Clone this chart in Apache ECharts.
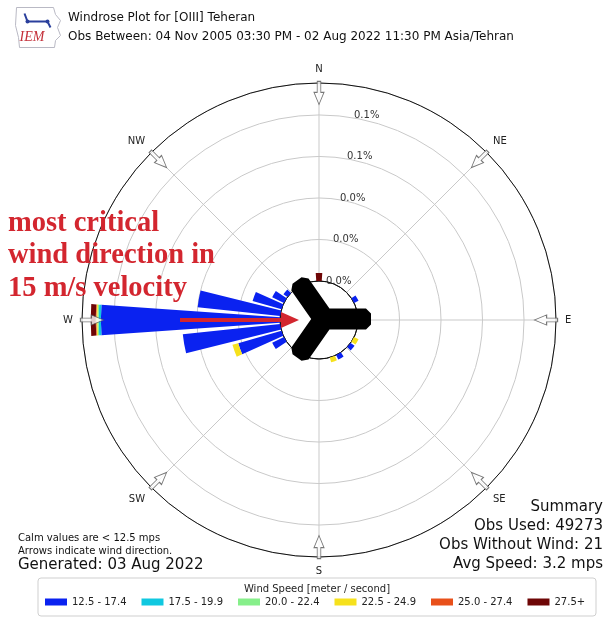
<!DOCTYPE html>
<html>
<head>
<meta charset="utf-8">
<title>Windrose Plot for [OIII] Teheran</title>
<script src="https://cdn.jsdelivr.net/npm/echarts@6.0.0/dist/echarts.min.js"></script>
<style>
  html, body { margin: 0; padding: 0; background: #fff; }
  #chart { width: 608px; height: 621px; }
</style>
</head>
<body>
<div id="chart"></div>
<script>
// direction bins, degrees clockwise from north
const directions = [0, 10, 20, 30, 40, 50, 60, 70, 80, 90, 100, 110, 120, 130, 140, 150, 160, 170,
  180, 190, 200, 210, 220, 230, 240, 250, 260, 270, 280, 290, 300, 310, 320, 330, 340, 350]

const speedBins = ['12.5 - 17.4', '17.5 - 19.9', '20.0 - 22.4', '22.5 - 24.9', '25.0 - 27.4', '27.5+']
const binColors = ['#0a22f0', '#10c8e0', '#86ef8a', '#f6e11c', '#e8501a', '#6e0606']

// frequency (%) per direction for each speed bin
const bin1 = [0, 0, 0, 0, 0, 0, 0.0024, 0, 0, 0, 0, 0, 0, 0.0024, 0, 0.0024, 0, 0,
  0, 0, 0, 0, 0, 0, 0.0063, 0.0217, 0.0472, 0.0863, 0.0400, 0.0145, 0.0063, 0.0024, 0, 0, 0, 0]
const bin2 = [0, 0, 0, 0, 0, 0, 0, 0, 0, 0, 0, 0, 0, 0, 0, 0, 0, 0,
  0, 0, 0, 0, 0, 0, 0, 0, 0, 0.0011, 0, 0, 0, 0, 0, 0, 0, 0]
const bin3 = [0, 0, 0, 0, 0, 0, 0, 0, 0, 0, 0, 0, 0, 0, 0, 0, 0, 0,
  0, 0, 0, 0, 0, 0, 0, 0, 0, 0.0006, 0, 0, 0, 0, 0, 0, 0, 0]
const bin4 = [0, 0, 0, 0, 0, 0, 0, 0, 0, 0, 0, 0, 0.0024, 0, 0, 0, 0.0024, 0,
  0, 0, 0, 0, 0, 0, 0, 0.0029, 0, 0.0005, 0, 0, 0, 0, 0, 0, 0, 0]
const bin5 = [0, 0, 0, 0, 0, 0, 0, 0, 0, 0, 0, 0, 0, 0, 0, 0, 0, 0,
  0, 0, 0, 0, 0, 0, 0, 0, 0, 0.0003, 0, 0, 0, 0, 0, 0, 0, 0]
const bin6 = [0.0039, 0, 0, 0, 0, 0, 0, 0, 0, 0, 0, 0, 0, 0, 0, 0, 0, 0,
  0, 0, 0, 0, 0, 0, 0, 0, 0, 0.0024, 0, 0, 0, 0, 0, 0, 0, 0]
const binValues = [bin1, bin2, bin3, bin4, bin5, bin6]

const compassAngles = [0, 45, 90, 135, 180, 225, 270, 315]
const compassLabels = ['N', 'NE', 'E', 'SE', 'S', 'SW', 'W', 'NW']
const ringStep = 0.02
const ringMax = 0.0954
const arrowRing = 0.0906

const summaryLines = ['Summary', 'Obs Used: 49273', 'Obs Without Wind: 21', 'Avg Speed: 3.2 mps']
const noteLines = ['Calm values are < 12.5 mps', 'Arrows indicate wind direction.']

const FONT = 'DejaVu Sans'
const RED = '#d3262f'

// three-armed black marker drawn over the rose
function yShape(cx, cy, arms, len, half, cut) {
  const pts = []
  for (let i = 0; i < arms.length; i++) {
    const a = arms[i] * Math.PI / 180
    const d = [Math.cos(a), Math.sin(a)]
    const m = [-d[1], d[0]]
    const at = (s, t) => [cx + d[0] * s + m[0] * t, cy - (d[1] * s + m[1] * t)]
    pts.push(at(len - cut, -half), at(len, -half + cut), at(len, half - cut), at(len - cut, half))
    const next = arms[(i + 1) % arms.length] + (i === arms.length - 1 ? 360 : 0)
    const gap = (next - arms[i]) * Math.PI / 180
    const mid = a + gap / 2
    const dist = half / Math.sin(gap / 2)
    pts.push([cx + Math.cos(mid) * dist, cy - Math.sin(mid) * dist])
  }
  return pts
}

// ring labels drift outward, like the matplotlib label angle
const ringRich = {}
for (let i = 0; i < 6; i++) {
  ringRich['p' + i] = { padding: [0, 0, 0, i * 7], fontSize: 10, color: '#333' }
}

const chart = echarts.init(document.getElementById('chart'))

const barSeries = speedBins.map((name, k) => ({
  name,
  type: 'bar',
  coordinateSystem: 'polar',
  stack: 'rose',
  barCategoryGap: '20%',
  itemStyle: { color: binColors[k] },
  data: directions.map((d, i) => [binValues[k][i], d]),
  silent: true,
  z: 2,
}))

const options = {
  animation: false,
  textStyle: { fontFamily: FONT },
  polar: {
    center: [319, 320],
    radius: [39, 237],
  },
  angleAxis: {
    type: 'value',
    min: 0,
    max: 360,
    interval: 45,
    startAngle: 90,
    clockwise: true,
    axisLine: { lineStyle: { color: '#111', width: 1 } },
    axisTick: { show: false },
    axisLabel: {
      margin: 9,
      color: '#222',
      fontSize: 10,
      formatter: (v) => {
        const i = compassAngles.indexOf(v)
        return i >= 0 ? compassLabels[i] : ''
      },
    },
    splitLine: { lineStyle: { color: '#c9c9c9', width: 1 } },
  },
  radiusAxis: {
    type: 'value',
    min: 0,
    max: ringMax,
    interval: ringStep,
    axisLine: { show: false },
    axisTick: { show: false },
    axisLabel: {
      margin: -7,
      align: 'left',
      showMaxLabel: false,
      formatter: (v, i) => (v > ringMax - 0.001 ? '' : '{p' + i + '|' + v.toFixed(1) + '%}'),
      rich: ringRich,
    },
    splitLine: {
      lineStyle: { color: ['#111', '#c9c9c9', '#c9c9c9', '#c9c9c9', '#c9c9c9', '#c9c9c9'], width: 1 },
    },
  },
  legend: {
    data: speedBins,
    left: 45,
    top: 597,
    padding: 0,
    icon: 'rect',
    itemWidth: 22,
    itemHeight: 7,
    itemGap: 15,
    selectedMode: false,
    textStyle: { fontSize: 10, color: '#222', fontFamily: FONT },
  },
  series: [
    ...barSeries,
    {
      type: 'scatter',
      coordinateSystem: 'polar',
      symbol: 'path://M4.5,0 L9.5,0 L9.5,10 L14,10 L7,21 L0,10 L4.5,10 Z',
      symbolSize: [15, 23],
      symbolKeepAspect: true,
      itemStyle: { color: '#fff', borderColor: '#555', borderWidth: 1 },
      data: compassAngles.map((a) => ({ value: [arrowRing, a], symbolRotate: -a })),
      silent: true,
      z: 5,
    },
  ],
  graphic: [
    // logo
    {
      type: 'group', left: 13, top: 5, z: 5,
      children: [
        { type: 'polyline', shape: { points: [[3, 2], [40, 2], [42, 9], [47, 15], [44, 22], [47, 30], [42, 35], [41, 42], [6, 42], [5, 32], [2, 20], [3, 2]] },
          style: { stroke: '#b9b9c4', lineWidth: 1, fill: null } },
        { type: 'polyline', shape: { points: [[11, 8], [14, 16], [34, 16], [37, 22]] }, style: { stroke: '#2a3f9c', lineWidth: 2, fill: null } },
        { type: 'circle', shape: { cx: 14, cy: 16, r: 2 }, style: { fill: '#2a3f9c' } },
        { type: 'circle', shape: { cx: 34, cy: 16, r: 2 }, style: { fill: '#2a3f9c' } },
        { type: 'text', x: 6, y: 25, style: { text: 'IEM', fill: '#c4303a', fontSize: 14, fontStyle: 'italic', fontFamily: 'Liberation Serif' } },
      ],
    },
    { type: 'text', x: 68, y: 18, style: { text: 'Windrose Plot for [OIII] Teheran', fontSize: 12, fill: '#111', fontFamily: FONT, verticalAlign: 'middle' } },
    { type: 'text', x: 68, y: 37, style: { text: 'Obs Between: 04 Nov 2005 03:30 PM - 02 Aug 2022 11:30 PM Asia/Tehran', fontSize: 12, fill: '#111', fontFamily: FONT, verticalAlign: 'middle' } },
    // annotation
    { type: 'text', x: 8, y: 207, z: 20,
      style: { text: 'most critical\nwind direction in\n15 m/s velocity', fontSize: 28.5, lineHeight: 32.5, fontWeight: 'bold',
        fontFamily: 'Liberation Serif', fill: RED, verticalAlign: 'top' } },
    { type: 'line', z: 20, shape: { x1: 180, y1: 320, x2: 286, y2: 320 }, style: { stroke: RED, lineWidth: 4 } },
    { type: 'polygon', z: 20, shape: { points: [[281, 312], [299, 320], [281, 328]] }, style: { fill: RED } },
    { type: 'polygon', z: 21, shape: { points: yShape(324, 319, [0, 125, 235], 47, 10.5, 5) }, style: { fill: '#000' } },
    // notes
    { type: 'text', x: 18, y: 538, style: { text: noteLines[0], fontSize: 10, fill: '#111', fontFamily: FONT, verticalAlign: 'middle' } },
    { type: 'text', x: 18, y: 551, style: { text: noteLines[1], fontSize: 10, fill: '#111', fontFamily: FONT, verticalAlign: 'middle' } },
    { type: 'text', x: 18, y: 565, style: { text: 'Generated: 03 Aug 2022', fontSize: 15, fill: '#111', fontFamily: FONT, verticalAlign: 'middle' } },
    ...summaryLines.map((t, i) => ({
      type: 'text', x: 603, y: 507 + i * 19,
      style: { text: t, fontSize: 15, fill: '#111', fontFamily: FONT, align: 'right', verticalAlign: 'middle' },
    })),
    // legend frame
    { type: 'rect', z: -1, shape: { x: 38, y: 578, width: 558, height: 38, r: 3 }, style: { fill: '#fff', stroke: '#cfcfcf', lineWidth: 1 } },
    { type: 'text', x: 317, y: 589, style: { text: 'Wind Speed [meter / second]', fontSize: 10, fill: '#222', fontFamily: FONT, align: 'center', verticalAlign: 'middle' } },
  ],
}

chart.setOption(options)
</script>
</body>
</html>
